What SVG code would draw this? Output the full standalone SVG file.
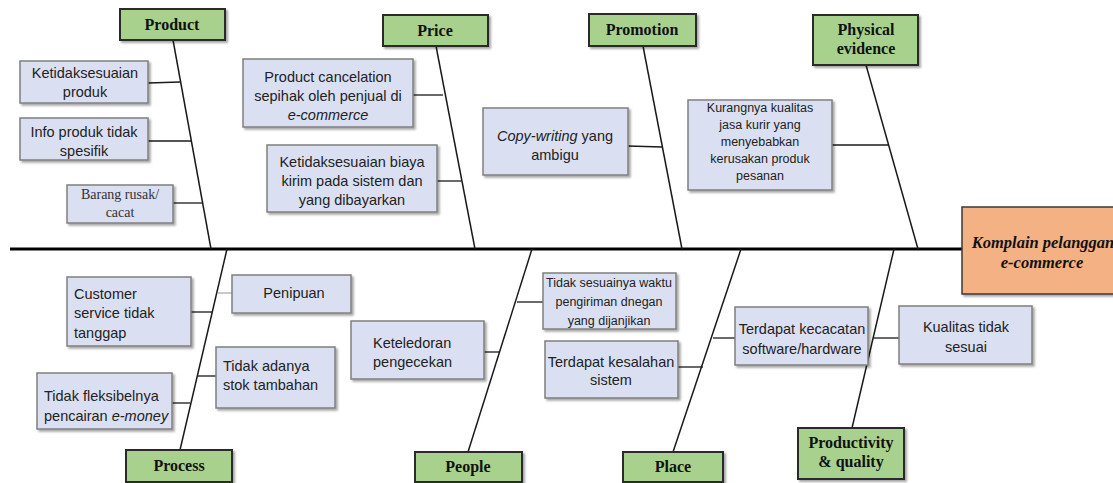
<svg xmlns="http://www.w3.org/2000/svg" width="1113" height="483" viewBox="0 0 1113 483">
<defs>
<filter id="sh" x="-10%" y="-10%" width="130%" height="130%">
<feDropShadow dx="2" dy="2" stdDeviation="1" flood-color="#000" flood-opacity="0.35"/>
</filter>
</defs>
<style>
.cat{fill:#A9D18E;stroke:#2b2b2b;stroke-width:2;filter:url(#sh)}
.cause{fill:#DAE0F2;stroke:#7f7f7f;stroke-width:1.5;filter:url(#sh)}
.eff{fill:#F4B183;stroke:#3a3a3a;stroke-width:1.5;filter:url(#sh)}
.ct{font-family:"Liberation Serif",serif;font-weight:bold;font-size:16px;fill:#111;text-anchor:middle}
.et{font-family:"Liberation Serif",serif;font-weight:bold;font-style:italic;font-size:16.5px;fill:#111;text-anchor:middle}
.t{font-family:"Liberation Sans",Arial,sans-serif;font-size:14.5px;fill:#222;text-anchor:middle}
.tl{font-family:"Liberation Sans",Arial,sans-serif;font-size:14.5px;fill:#222}
.ts{font-family:"Liberation Sans",Arial,sans-serif;font-size:12.5px;fill:#222;text-anchor:middle}
.tser{font-family:"Liberation Serif",serif;font-size:14px;fill:#333;text-anchor:middle}
.bone{stroke:#1a1a1a;stroke-width:1.5;fill:none}
.sub{stroke:#1a1a1a;stroke-width:1.3;fill:none}
</style>
<g id="connectors">
<line x1="10" y1="249" x2="962" y2="249" stroke="#000" stroke-width="3"/>
<line class="bone" x1="173" y1="40" x2="211" y2="249"/>
<line class="bone" x1="436" y1="46" x2="475" y2="249"/>
<line class="bone" x1="643" y1="46" x2="682" y2="249"/>
<line class="bone" x1="866" y1="65" x2="918" y2="249"/>
<line class="bone" x1="227" y1="249" x2="180" y2="450"/>
<line class="bone" x1="532" y1="249" x2="468" y2="452"/>
<line class="bone" x1="741" y1="249" x2="673" y2="452"/>
<line class="bone" x1="894" y1="249" x2="852" y2="428"/>
<line class="sub" x1="148" y1="83" x2="180" y2="82"/>
<line class="sub" x1="148" y1="141" x2="191" y2="141"/>
<line class="sub" x1="173" y1="203" x2="202" y2="203"/>
<line class="sub" x1="413" y1="95" x2="443" y2="95"/>
<line class="sub" x1="437" y1="181" x2="461" y2="181"/>
<line class="sub" x1="628" y1="146" x2="662" y2="147"/>
<line class="sub" x1="832" y1="145" x2="888" y2="145"/>
<line class="sub" x1="191" y1="312" x2="212" y2="312"/>
<line x1="218" y1="293" x2="232" y2="293" stroke="#aaa" stroke-width="1.3"/>
<line class="sub" x1="198" y1="376" x2="216" y2="376"/>
<line class="sub" x1="172" y1="403" x2="190" y2="403"/>
<line class="sub" x1="484" y1="352" x2="499" y2="352"/>
<line class="sub" x1="517" y1="302" x2="543" y2="302"/>
<line class="sub" x1="678" y1="367" x2="703" y2="367"/>
<line class="sub" x1="713" y1="338" x2="735" y2="338"/>
<line class="sub" x1="873" y1="338" x2="899" y2="338"/>
</g>
<g id="effect">
<rect class="eff" x="962" y="207" width="160" height="87"/>
<text class="et" x="1043" y="248">Komplain pelanggan</text>
<text class="et" x="1042" y="268">e-commerce</text>
</g>
<g id="product">
<rect class="cat" x="120" y="9" width="105" height="31"/>
<text class="ct" x="172" y="30">Product</text>
</g>
<g id="price">
<rect class="cat" x="383" y="15" width="105" height="31"/>
<text class="ct" x="435" y="36">Price</text>
</g>
<g id="promotion">
<rect class="cat" x="589" y="14" width="107" height="32"/>
<text class="ct" x="642" y="35">Promotion</text>
</g>
<g id="physical-evidence">
<rect class="cat" x="813" y="15" width="105" height="50"/>
<text class="ct" x="866" y="35">Physical</text>
<text class="ct" x="866" y="54">evidence</text>
</g>
<g id="process">
<rect class="cat" x="126" y="450" width="106" height="32"/>
<text class="ct" x="179" y="471">Process</text>
</g>
<g id="people">
<rect class="cat" x="415" y="452" width="107" height="30"/>
<text class="ct" x="468" y="472">People</text>
</g>
<g id="place">
<rect class="cat" x="623" y="452" width="100" height="30"/>
<text class="ct" x="673" y="472">Place</text>
</g>
<g id="productivity-quality">
<rect class="cat" x="798" y="428" width="106" height="51"/>
<text class="ct" x="851" y="448">Productivity</text>
<text class="ct" x="851" y="467">&amp; quality</text>
</g>
<g id="c-ketidaksesuaian-produk">
<rect class="cause" x="20" y="61" width="128" height="42"/>
<text class="t" x="85" y="78">Ketidaksesuaian</text>
<text class="t" x="85" y="97">produk</text>
</g>
<g id="c-info-produk">
<rect class="cause" x="20" y="118" width="128" height="42"/>
<text class="t" x="84" y="137">Info produk tidak</text>
<text class="t" x="84" y="156">spesifik</text>
</g>
<g id="c-barang-rusak">
<rect class="cause" x="67" y="185" width="106" height="38"/>
<text class="tser" x="120" y="199">Barang rusak/</text>
<text class="tser" x="120" y="217">cacat</text>
</g>
<g id="c-product-cancelation">
<rect class="cause" x="243" y="59" width="170" height="68"/>
<text class="t" x="328" y="82">Product cancelation</text>
<text class="t" x="328" y="101">sepihak oleh penjual di</text>
<text class="t" x="328" y="120" font-style="italic">e-commerce</text>
</g>
<g id="c-biaya-kirim">
<rect class="cause" x="267" y="145" width="170" height="67"/>
<text class="t" x="352" y="167">Ketidaksesuaian biaya</text>
<text class="t" x="352" y="186">kirim pada sistem dan</text>
<text class="t" x="352" y="205">yang dibayarkan</text>
</g>
<g id="c-copywriting">
<rect class="cause" x="483" y="108" width="145" height="67"/>
<text class="t" x="555" y="141"><tspan font-style="italic">Copy-writing</tspan> yang</text>
<text class="t" x="555" y="160">ambigu</text>
</g>
<g id="c-kurir">
<rect class="cause" x="688" y="100" width="144" height="90"/>
<text class="ts" x="760" y="112">Kurangnya kualitas</text>
<text class="ts" x="760" y="129">jasa kurir yang</text>
<text class="ts" x="760" y="146">menyebabkan</text>
<text class="ts" x="760" y="163">kerusakan produk</text>
<text class="ts" x="760" y="180">pesanan</text>
</g>
<g id="c-customer-service">
<rect class="cause" x="67" y="277" width="124" height="69"/>
<text class="tl" x="74" y="299">Customer</text>
<text class="tl" x="74" y="318">service tidak</text>
<text class="tl" x="74" y="338">tanggap</text>
</g>
<g id="c-penipuan">
<rect class="cause" x="232" y="275" width="119" height="38"/>
<text class="t" x="294" y="298">Penipuan</text>
</g>
<g id="c-stok">
<rect class="cause" x="216" y="347" width="119" height="61"/>
<text class="tl" x="223" y="371">Tidak adanya</text>
<text class="tl" x="223" y="390">stok tambahan</text>
</g>
<g id="c-emoney">
<rect class="cause" x="37" y="373" width="135" height="56"/>
<text class="tl" x="44" y="401">Tidak fleksibelnya</text>
<text class="tl" x="44" y="421">pencairan <tspan font-style="italic">e-money</tspan></text>
</g>
<g id="c-keteledoran">
<rect class="cause" x="351" y="321" width="133" height="58"/>
<text class="tl" x="373" y="348">Keteledoran</text>
<text class="tl" x="373" y="367">pengecekan</text>
</g>
<g id="c-waktu">
<rect class="cause" x="543" y="273" width="133" height="56"/>
<text class="ts" x="609" y="287">Tidak sesuainya waktu</text>
<text class="ts" x="609" y="306">pengiriman dnegan</text>
<text class="ts" x="609" y="325">yang dijanjikan</text>
</g>
<g id="c-kesalahan-sistem">
<rect class="cause" x="545" y="341" width="133" height="57"/>
<text class="t" x="611" y="367">Terdapat kesalahan</text>
<text class="t" x="611" y="385">sistem</text>
</g>
<g id="c-kecacatan">
<rect class="cause" x="735" y="307" width="133" height="58"/>
<text class="t" x="802" y="334">Terdapat kecacatan</text>
<text class="t" x="802" y="354">software/hardware</text>
</g>
<g id="c-kualitas">
<rect class="cause" x="899" y="306" width="133" height="58"/>
<text class="t" x="966" y="332">Kualitas tidak</text>
<text class="t" x="966" y="352">sesuai</text>
</g>
</svg>
